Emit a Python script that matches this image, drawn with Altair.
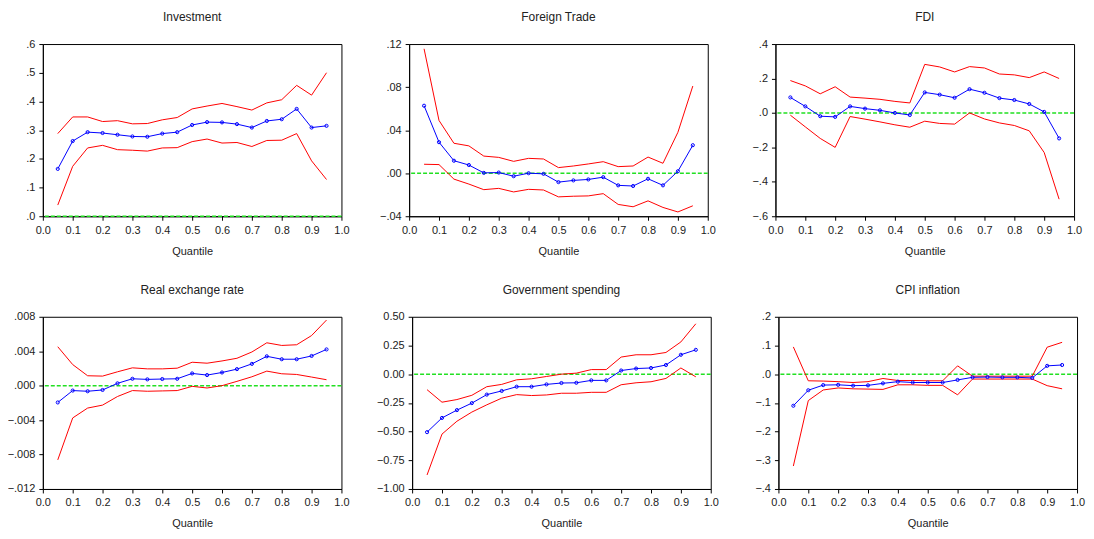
import altair as alt
import pandas as pd

quantiles = [0.05, 0.10, 0.15, 0.20, 0.25, 0.30, 0.35, 0.40, 0.45, 0.50,
             0.55, 0.60, 0.65, 0.70, 0.75, 0.80, 0.85, 0.90, 0.95]
x_ticks = [0.0, 0.1, 0.2, 0.3, 0.4, 0.5, 0.6, 0.7, 0.8, 0.9, 1.0]

# Investment
inv_coef = [0.165, 0.262, 0.293, 0.290, 0.284, 0.278, 0.277, 0.288, 0.293, 0.318,
            0.328, 0.327, 0.321, 0.309, 0.332, 0.338, 0.374, 0.309, 0.315]
inv_upper = [0.288, 0.346, 0.346, 0.330, 0.333, 0.322, 0.323, 0.336, 0.344, 0.374,
             0.384, 0.393, 0.382, 0.370, 0.395, 0.406, 0.456, 0.422, 0.500]
inv_lower = [0.039, 0.174, 0.238, 0.247, 0.232, 0.230, 0.227, 0.238, 0.239, 0.260,
             0.269, 0.255, 0.257, 0.243, 0.264, 0.265, 0.288, 0.193, 0.128]

# Foreign Trade
ft_coef = [0.0627, 0.0288, 0.0116, 0.0076, 0.0003, 0.0006, -0.0028, 0.0000, -0.0006, -0.0083,
           -0.0067, -0.0058, -0.0037, -0.0113, -0.0119, -0.0052, -0.0113, 0.0018, 0.0260]
ft_upper = [0.1156, 0.0490, 0.0278, 0.0254, 0.0159, 0.0147, 0.0110, 0.0138, 0.0132, 0.0052,
            0.0067, 0.0086, 0.0107, 0.0061, 0.0067, 0.0150, 0.0092, 0.0380, 0.0810]
ft_lower = [0.0083, 0.0080, -0.0055, -0.0101, -0.0153, -0.0141, -0.0174, -0.0150, -0.0156, -0.0220,
            -0.0214, -0.0211, -0.0190, -0.0290, -0.0312, -0.0257, -0.0318, -0.0360, -0.0303]

# FDI
fdi_coef = [0.090, 0.038, -0.019, -0.023, 0.038, 0.025, 0.015, 0.000, -0.012, 0.119,
            0.106, 0.088, 0.138, 0.117, 0.086, 0.075, 0.052, 0.006, -0.148]
fdi_upper = [0.188, 0.157, 0.111, 0.152, 0.092, 0.086, 0.079, 0.067, 0.058, 0.282,
             0.267, 0.238, 0.269, 0.261, 0.226, 0.221, 0.205, 0.238, 0.200]
fdi_lower = [-0.013, -0.081, -0.148, -0.200, -0.021, -0.036, -0.052, -0.069, -0.083, -0.048,
             -0.061, -0.065, 0.000, -0.035, -0.058, -0.073, -0.104, -0.230, -0.501]

# Real exchange rate
rer_coef = [-0.00195, -0.00057, -0.00065, -0.00050, 0.00027, 0.00080, 0.00073, 0.00077, 0.00080, 0.00142,
            0.00123, 0.00153, 0.00192, 0.00253, 0.00341, 0.00307, 0.00307, 0.00345, 0.00421]
rer_upper = [0.00452, 0.00245, 0.00115, 0.00111, 0.00161, 0.00207, 0.00195, 0.00195, 0.00203, 0.00272,
             0.00261, 0.00287, 0.00318, 0.00391, 0.00498, 0.00467, 0.00475, 0.00582, 0.00762]
rer_lower = [-0.00862, -0.00375, -0.00260, -0.00226, -0.00126, -0.00057, -0.00065, -0.00061, -0.00057, -0.00008,
             -0.00027, 0.00000, 0.00050, 0.00103, 0.00169, 0.00138, 0.00130, 0.00100, 0.00069]

# Government spending
gov_coef = [-0.505, -0.381, -0.313, -0.252, -0.178, -0.146, -0.109, -0.109, -0.089, -0.077,
            -0.075, -0.054, -0.054, 0.032, 0.049, 0.054, 0.080, 0.169, 0.212]
gov_upper = [-0.135, -0.244, -0.221, -0.184, -0.109, -0.089, -0.049, -0.040, -0.020, 0.000,
             0.009, 0.040, 0.040, 0.149, 0.169, 0.169, 0.189, 0.281, 0.439]
gov_lower = [-0.878, -0.522, -0.410, -0.330, -0.267, -0.209, -0.178, -0.186, -0.181, -0.166,
             -0.166, -0.158, -0.158, -0.092, -0.075, -0.066, -0.037, 0.054, -0.023]

# CPI inflation
cpi_coef = [-0.110, -0.056, -0.038, -0.037, -0.040, -0.039, -0.032, -0.026, -0.029, -0.029,
            -0.029, -0.020, -0.011, -0.010, -0.011, -0.011, -0.013, 0.029, 0.032]
cpi_upper = [0.095, -0.023, -0.024, -0.026, -0.029, -0.026, -0.015, -0.022, -0.022, -0.023,
             -0.023, 0.029, -0.007, -0.007, -0.007, -0.007, -0.007, 0.094, 0.111]
cpi_lower = [-0.320, -0.092, -0.055, -0.048, -0.051, -0.052, -0.053, -0.037, -0.037, -0.039,
             -0.039, -0.072, -0.017, -0.017, -0.017, -0.017, -0.017, -0.040, -0.051]

titles = ["Investment", "Foreign Trade", "FDI", "Real exchange rate", "Government spending", "CPI inflation"]
y_domains = [[0, 0.6], [-0.04, 0.12], [-0.6, 0.4], [-0.012, 0.008], [-1.0, 0.5], [-0.4, 0.2]]
y_ticks = [
    [0, 0.1, 0.2, 0.3, 0.4, 0.5, 0.6],
    [-0.04, 0.0, 0.04, 0.08, 0.12],
    [-0.6, -0.4, -0.2, 0.0, 0.2, 0.4],
    [-0.012, -0.008, -0.004, 0.0, 0.004, 0.008],
    [-1.0, -0.75, -0.5, -0.25, 0.0, 0.25, 0.5],
    [-0.4, -0.3, -0.2, -0.1, 0.0, 0.1, 0.2],
]
y_formats = [".1f", ".2f", ".1f", ".3f", ".2f", ".1f"]
y_strip = [True, True, True, True, False, True]
series = [
    (inv_coef, inv_lower, inv_upper),
    (ft_coef, ft_lower, ft_upper),
    (fdi_coef, fdi_lower, fdi_upper),
    (rer_coef, rer_lower, rer_upper),
    (gov_coef, gov_lower, gov_upper),
    (cpi_coef, cpi_lower, cpi_upper),
]

FONT = "Liberation Sans"


def panel(i, h):
    coef, lower, upper = series[i]
    n = len(quantiles)
    df = pd.DataFrame({
        "q": quantiles * 3,
        "v": lower + upper + coef,
        "s": ["lower"] * n + ["upper"] * n + ["coef"] * n,
    })
    if y_strip[i]:
        lexpr = f"replace(format(datum.value, '{y_formats[i]}'), '0.', '.')"
    else:
        lexpr = f"format(datum.value, '{y_formats[i]}')"
    x = alt.X("q:Q", scale=alt.Scale(domain=[0, 1], nice=False),
              axis=alt.Axis(values=x_ticks, format=".1f", title="Quantile"))
    y = alt.Y("v:Q", scale=alt.Scale(domain=y_domains[i], nice=False, zero=False),
              axis=alt.Axis(values=y_ticks[i], labelExpr=lexpr, title=None))
    base = alt.Chart(df)
    zero = alt.Chart(pd.DataFrame({"v": [0.0]})).mark_rule(
        color="#22e022", strokeDash=[4, 2], strokeWidth=1.5).encode(y=y)
    bands = base.transform_filter("datum.s != 'coef'").mark_line(
        color="#ff0000", strokeWidth=1).encode(x=x, y=y, detail="s:N")
    cl = base.transform_filter("datum.s == 'coef'").mark_line(
        color="#0000ff", strokeWidth=1).encode(x=x, y=y)
    pts = base.transform_filter("datum.s == 'coef'").mark_point(
        color="#0000ff", filled=False, size=10, strokeWidth=1, opacity=1).encode(x=x, y=y)
    return alt.layer(zero, bands, cl, pts).properties(
        width=300, height=h, title=titles[i])


row1 = alt.hconcat(panel(0, 173), panel(1, 173), panel(2, 173), spacing=25)
row2 = alt.hconcat(panel(3, 173), panel(4, 173), panel(5, 173), spacing=25)

chart = alt.vconcat(row1, row2, spacing=26).properties(
    padding={"left": -2, "top": 1, "right": 0, "bottom": 0}
).configure_view(
    stroke="black", strokeWidth=1
).configure_axis(
    grid=False, domainColor="black", tickColor="black", tickSize=4,
    labelPadding=4, labelColor="#222222", labelFont=FONT, labelFontSize=11,
    labelFlush=False, labelOverlap=False,
    titleFont=FONT, titleFontSize=11, titleFontWeight="normal", titleColor="#222222",
).configure_axisY(
    minExtent=33, maxExtent=33
).configure_axisX(
    titlePadding=10
).configure_title(
    font=FONT, fontSize=12, fontWeight="normal", anchor="middle",
    offset=14, baseline="bottom", color="#222222"
)

chart.save("out.html", embed_options={"renderer": "svg", "actions": False})
